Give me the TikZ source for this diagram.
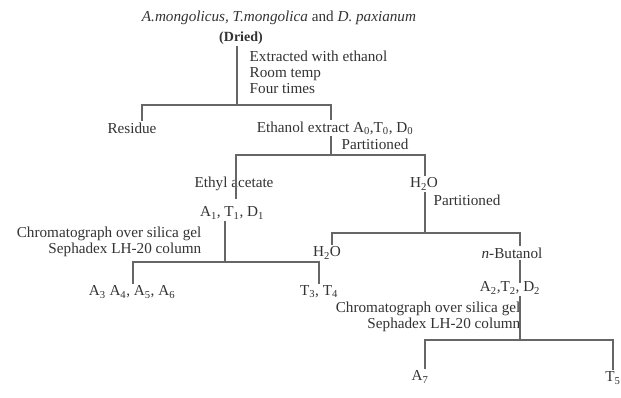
\documentclass[tikz,border=0pt]{standalone}
\usepackage{fontspec}
\setmainfont{Liberation Serif}
\begin{document}
\tikzset{
  txt/.style={inner sep=1.5pt, font=\fontsize{15.2}{16}\selectfont, text=black!80},
  ln/.style={draw=black!60, line width=1.3pt}
}
\begin{tikzpicture}[x=1pt,y=-1pt]
\useasboundingbox[fill=white] (0,0) rectangle (621,397);
% nodes
\node[txt] (title) at (279,18) {\textit{A.mongolicus, T.mongolica} and \textit{D. paxianum}};
\node[txt,font=\fontsize{14}{16}\selectfont\bfseries] (dried) at (241,38) {(Dried)};
\node[txt,anchor=west,align=left] (extr) at (248,72) {Extracted with ethanol\\Room temp\\Four times};
\node[txt] (residue) at (132,128) {Residue};
\node[txt] (ethanol) at (335,128) {Ethanol extract A\textsubscript{0},T\textsubscript{0}, D\textsubscript{0}};
\node[txt,anchor=west] (part1) at (340,144) {Partitioned};
\node[txt] (ethyl) at (234,184) {Ethyl acetate};
\node[txt] (h2oa) at (424,184) {H\textsubscript{2}O};
\node[txt,anchor=west] (part2) at (432,200) {Partitioned};
\node[txt] (a1) at (232,213) {A\textsubscript{1}, T\textsubscript{1}, D\textsubscript{1}};
\node[txt,anchor=east,align=right] (chroma) at (203,242) {Chromatograph over silica gel\\Sephadex LH-20 column};
\node[txt] (h2ob) at (327,253) {H\textsubscript{2}O};
\node[txt] (buta) at (512,253) {\textit{n}-Butanol};
\node[txt] (a3) at (132,292) {A\textsubscript{3} A\textsubscript{4}, A\textsubscript{5}, A\textsubscript{6}};
\node[txt] (t3) at (319,292) {T\textsubscript{3}, T\textsubscript{4}};
\node[txt] (a2) at (510,288) {A\textsubscript{2},T\textsubscript{2}, D\textsubscript{2}};
\node[txt,anchor=east,align=right] (chromb) at (522,317) {Chromatograph over silica gel\\Sephadex LH-20 column};
\node[txt] (a7) at (420,377) {A\textsubscript{7}};
\node[txt] (t5) at (613,378) {T\textsubscript{5}};
% connectors
\coordinate (j1) at (237,105);
\draw[ln] (dried.south -| j1) -- (j1);
\coordinate (r1) at (142,105);
\coordinate (e1) at (331,105);
\draw[ln] (residue.north -| r1) -- (r1) -- (e1) -- (ethanol.north -| e1);
\coordinate (j2) at (331,155);
\draw[ln] (ethanol.south -| j2) -- (j2);
\coordinate (l2) at (236,155);
\coordinate (r2) at (425,155);
\coordinate (l2e) at (236,199);
\draw[ln] (l2e) -- (l2) -- (r2) -- (h2oa.north -| r2);
\coordinate (j3) at (425,233);
\draw[ln] (h2oa.south -| j3) -- (j3);
\coordinate (l3) at (332,233);
\coordinate (r3) at (520,233);
\draw[ln] (h2ob.north -| l3) -- (l3) -- (r3) -- (buta.north -| r3);
\coordinate (j4) at (225,262);
\draw[ln] (a1.south -| j4) -- (j4);
\coordinate (l4) at (133,262);
\coordinate (r4) at (319,262);
\draw[ln] (a3.north -| l4) -- (l4) -- (r4);
\draw[ln] (h2ob.south -| r4) -- (t3.north -| r4);
\coordinate (a2top) at (520,283);
\draw[ln] (buta.south -| r3) -- (a2top);
\coordinate (j5) at (520,340);
\draw[ln] (a2.south -| j5) -- (j5);
\coordinate (l5) at (425,340);
\coordinate (r5) at (613,340);
\draw[ln] (a7.north -| l5) -- (l5) -- (r5) -- (t5.north -| r5);
\end{tikzpicture}
\end{document}
